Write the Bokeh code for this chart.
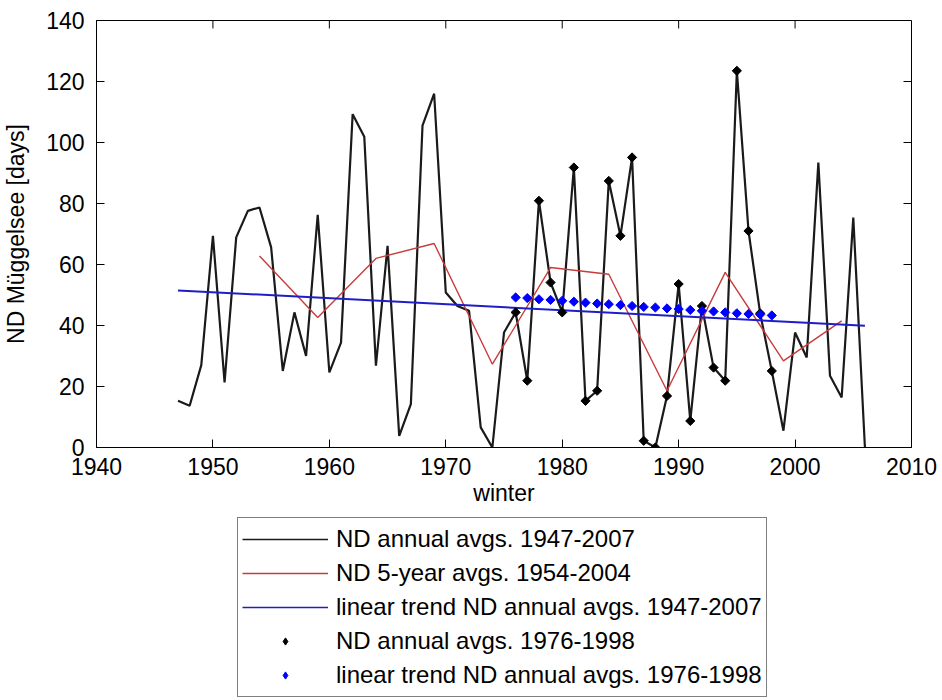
import math
from bokeh.plotting import figure
from bokeh.layouts import column
from bokeh.models import Range1d, FixedTicker, Legend, LegendItem
from bokeh.embed import file_html
from bokeh.resources import INLINE

# ---- data ----
years = list(range(1947, 2007))
nd_annual = [15.3, 13.7, 27.0, 69.4, 21.3, 68.9, 77.6, 78.7, 65.6, 25.1,
             44.3, 30.0, 76.3, 24.6, 34.4, 109.3, 101.9, 26.8, 66.1, 3.8,
             14.2, 105.5, 116.0, 50.8, 46.4, 44.8, 6.6, 0.0, 37.7, 44.3,
             21.9, 80.9, 54.1, 44.3, 91.8, 15.3, 18.6, 87.4, 69.4, 95.1,
             2.2, 0.0, 16.9, 53.6, 8.7, 46.4, 26.2, 21.9, 123.5, 71.0,
             44.0, 25.1, 5.5, 37.7, 29.5, 93.4, 23.5, 16.4, 75.4, 0.0]

five_years = [1954, 1959, 1964, 1969, 1974, 1979, 1984, 1989, 1994, 1999, 2004]
five_vals = [62.8, 42.6, 62.0, 66.9, 27.3, 59.0, 56.8, 18.6, 57.4, 28.4, 41.5]

trend_years = [1947, 2006]
trend_vals = [51.5, 39.9]

sub_years = list(range(1976, 1999))
sub_trend = [49.2, 49.0, 48.6, 48.4, 48.1, 47.8, 47.5, 47.2, 47.0, 46.7, 46.4, 46.1,
             45.9, 45.6, 45.4, 45.1, 44.8, 44.6, 44.3, 44.0, 43.8, 43.6, 43.3]
sub_annual = nd_annual[years.index(1976):years.index(1998) + 1]

x_ticks = [1940, 1950, 1960, 1970, 1980, 1990, 2000, 2010]
y_ticks = [0, 20, 40, 60, 80, 100, 120, 140]

labels = ["ND annual avgs. 1947-2007",
          "ND 5-year avgs. 1954-2004",
          "linear trend ND annual avgs. 1947-2007",
          "ND annual avgs. 1976-1998",
          "linear trend ND annual avgs. 1976-1998"]

FONT = "Liberation Sans"
X0, X1 = 1940, 2010
Y0, Y1 = 0, 140

C_BLACK = "#1a1a1a"
C_RED = "#c83c3c"
C_BLUE = "#1e1ec8"
C_BLUE_PT = "#0000ff"

p = figure(width=942, height=517,
           x_range=Range1d(X0, X1), y_range=Range1d(Y0, Y1),
           output_backend="svg", toolbar_location=None,
           min_border_left=94, min_border_right=31,
           min_border_top=20, min_border_bottom=70,
           x_axis_label="winter", y_axis_label="ND Müggelsee [days]")

p.grid.visible = False
p.outline_line_color = "black"
p.outline_line_width = 1
p.background_fill_color = "white"
p.border_fill_color = "white"

for ax in (p.xaxis[0], p.yaxis[0]):
    ax.major_tick_in = 8
    ax.major_tick_out = 0
    ax.minor_tick_line_color = None
    ax.axis_line_color = "black"
    ax.major_tick_line_color = "black"
    ax.major_label_text_font = FONT
    ax.major_label_text_font_size = "23px"
    ax.major_label_text_color = "black"
    ax.axis_label_text_font = FONT
    ax.axis_label_text_font_size = "23px"
    ax.axis_label_text_font_style = "normal"
    ax.axis_label_text_color = "black"

p.xaxis[0].ticker = FixedTicker(ticks=x_ticks)
p.yaxis[0].ticker = FixedTicker(ticks=y_ticks)
p.xaxis[0].major_label_standoff = 10
p.xaxis[0].axis_label_standoff = 2
p.yaxis[0].major_label_standoff = 12
p.yaxis[0].axis_label_standoff = 14

# mirrored inward ticks on top and right (MATLAB box style)
p.ray(x=x_ticks, y=[Y1] * len(x_ticks), length=8, length_units="screen",
      angle=-math.pi / 2, line_color="black", line_width=1)
p.ray(x=[X1] * len(y_ticks), y=y_ticks, length=8, length_units="screen",
      angle=math.pi, line_color="black", line_width=1)

p.line(years, nd_annual, line_color=C_BLACK, line_width=2.2)
p.line(five_years, five_vals, line_color=C_RED, line_width=1.4)
p.line(trend_years, trend_vals, line_color=C_BLUE, line_width=2)
p.scatter(sub_years, sub_annual, marker="square", angle=math.pi / 4, size=6.5,
          fill_color="black", line_color="black", line_width=1)
p.scatter(sub_years, sub_trend, marker="square", angle=math.pi / 4, size=6.5,
          fill_color=C_BLUE_PT, line_color=C_BLUE_PT, line_width=1)

# ---- legend panel below the axes ----
lg = figure(width=942, height=183, x_range=Range1d(0, 1), y_range=Range1d(0, 1),
            output_backend="svg", toolbar_location=None,
            min_border_left=94, min_border_right=31, min_border_top=0, min_border_bottom=0)
lg.axis.visible = False
lg.grid.visible = False
lg.outline_line_color = None
lg.background_fill_color = "white"
lg.border_fill_color = "white"

# single off-range points: only their legend swatches are seen
ox, oy = [-5, -5], [-5, -4]
g1 = lg.line(ox, oy, line_color=C_BLACK, line_width=1.5)
g2 = lg.line(ox, oy, line_color=C_RED, line_width=1.5)
g3 = lg.line(ox, oy, line_color=C_BLUE, line_width=1.5)
g4 = lg.scatter(ox, oy, marker="diamond", size=5,
                fill_color="black", line_color="black")
g5 = lg.scatter(ox, oy, marker="diamond", size=5,
                fill_color=C_BLUE_PT, line_color=C_BLUE_PT)

items = [LegendItem(label=labels[0], renderers=[g1]),
         LegendItem(label=labels[1], renderers=[g2]),
         LegendItem(label=labels[2], renderers=[g3]),
         LegendItem(label=labels[3], renderers=[g4]),
         LegendItem(label=labels[4], renderers=[g5])]
legend = Legend(items=items, location=(141, 3), orientation="vertical",
                border_line_color="black", border_line_width=1.5,
                label_text_font=FONT, label_text_font_size="24px",
                label_text_color="black",
                glyph_width=86, glyph_height=18, label_height=34,
                spacing=0, padding=4, margin=0, label_standoff=8,
                background_fill_color="white", background_fill_alpha=1)
lg.add_layout(legend, "center")

layout = column(p, lg, spacing=0)
open("out.html", "w").write(file_html(layout, INLINE))
